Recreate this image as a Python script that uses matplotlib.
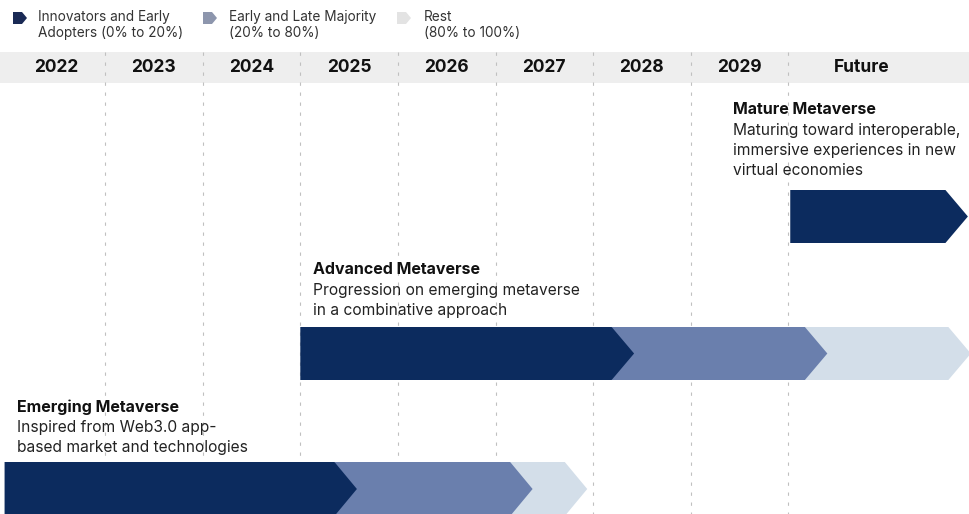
import matplotlib.pyplot as plt
from matplotlib.patches import Polygon

plt.rcParams['font.family'] = ['Inter', 'DejaVu Sans']

# timeline columns
years = ['2022', '2023', '2024', '2025', '2026', '2027', '2028', '2029']
future_label = 'Future'
first_year = 2022

# stages: boundaries of the segments (in years)
stage_names = ['Mature Metaverse', 'Advanced Metaverse', 'Emerging Metaverse']
stage_desc = [
    'Maturing toward interoperable,\nimmersive experiences in new\nvirtual economies',
    'Progression on emerging metaverse\nin a combinative approach',
    'Inspired from Web3.0 app-\nbased market and technologies',
]
mature_bounds = [2030.02, 2031.61]
advanced_bounds = [2025.0, 2028.19, 2030.17, 2031.64]
emerging_bounds = [2021.97, 2025.35, 2027.15, 2027.71]

legend_labels = ['Innovators and Early\nAdopters (0% to 20%)',
                 'Early and Late Majority\n(20% to 80%)',
                 'Rest\n(80% to 100%)']

colors = ['#0c2b5e', '#6a7fad', '#d3dee9']
legend_colors = ['#1a2a55', '#8d96ad', '#e3e3e3']

W, H = 969, 514
col_px = 97.6
x0_px = 7.5


def px2x(px):
    return first_year + (px - x0_px) / col_px


fig = plt.figure(figsize=(W / 100, H / 100), dpi=100)
ax = fig.add_axes([0, 0, 1, 1])
ax.set_xlim(px2x(0), px2x(W))
ax.set_ylim(H, 0)
ax.axis('off')

# header band
ax.fill_between([px2x(0), px2x(W)], 52, 83, color='#eeeeee', zorder=0, lw=0)
for i, y in enumerate(years):
    ax.text(first_year + i + 0.5, 68, y, ha='center', va='center',
            fontsize=12.5, fontweight='bold', color='#111111', zorder=3)
ax.text(px2x(862), 68, future_label, ha='center', va='center',
        fontsize=12.5, fontweight='bold', color='#111111', zorder=3)

# dashed column separators
for i in range(1, len(years) + 1):
    ax.plot([first_year + i, first_year + i], [52, H], color='#c0c0c0',
            lw=0.8, ls=(0, (3, 6)), zorder=1)

tip = 0.23


def chevrons(bounds, ytop, ybot):
    ym = (ytop + ybot) / 2
    n = len(bounds) - 1
    for k in range(n - 1, -1, -1):
        a, b = bounds[k], bounds[k + 1]
        pts = [(a, ytop), (b, ytop), (b + tip, ym), (b, ybot), (a, ybot)]
        ax.add_patch(Polygon(pts, closed=True, color=colors[k], lw=0, zorder=2 + (n - k)))


chevrons(mature_bounds, 190, 243)
chevrons(advanced_bounds, 327, 380)
chevrons(emerging_bounds, 462, 516)

# stage labels
text_pos = [(733, 110), (313, 270), (17, 407)]
for (px, py), name, desc in zip(text_pos, stage_names, stage_desc):
    ax.text(px2x(px), py, name, ha='left', va='center', fontsize=11.5,
            fontweight='bold', color='#111111')
    ax.text(px2x(px), py + 13, desc, ha='left', va='top', fontsize=11.2,
            color='#222222', linespacing=1.42)

# legend
leg_px = [13, 203, 397]
leg_text_px = [38, 229, 424]
for k in range(3):
    a = px2x(leg_px[k])
    b = px2x(leg_px[k] + 9)
    t = 5 / col_px
    pts = [(a, 12), (b, 12), (b + t, 18), (b, 24), (a, 24)]
    ax.add_patch(Polygon(pts, closed=True, color=legend_colors[k], lw=0, zorder=3))
    ax.text(px2x(leg_text_px[k]), 25, legend_labels[k], ha='left', va='center',
            fontsize=9.8, color='#333333', linespacing=1.2)

plt.savefig('out.png', dpi=100)
